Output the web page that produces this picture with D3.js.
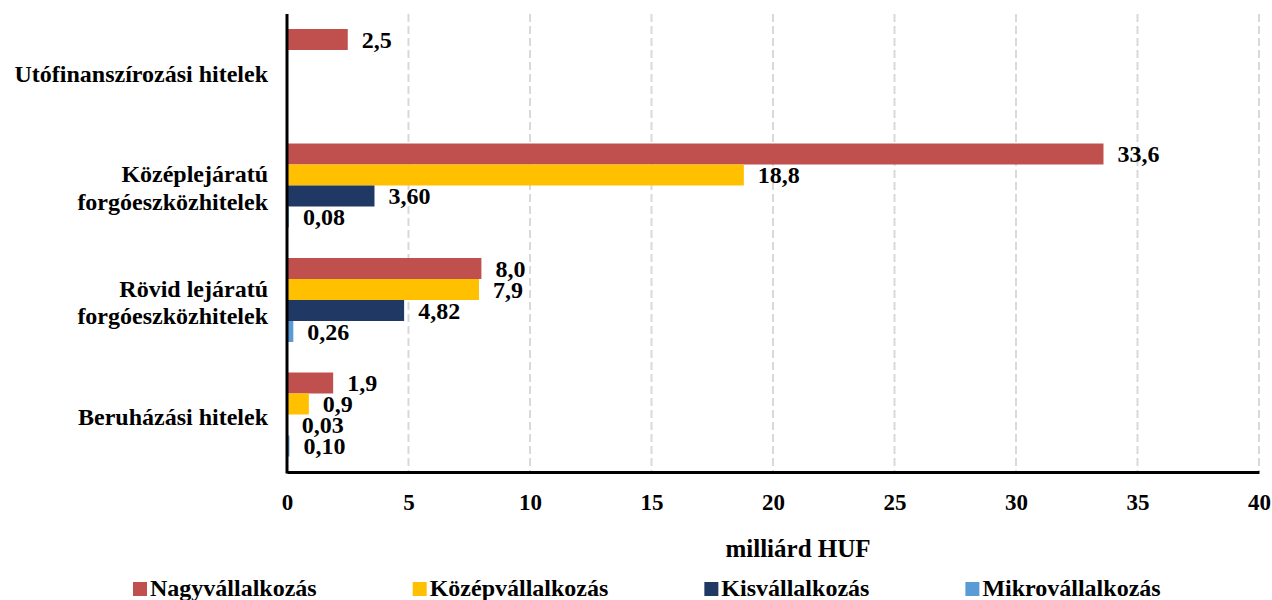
<!DOCTYPE html>
<html>
<head>
<meta charset="utf-8">
<script src="https://cdn.jsdelivr.net/npm/d3@7"></script>
<style>
  body { margin: 0; background: #fff; }
</style>
</head>
<body>
<div class="areaGrafica"></div>
<script>
// adatok
const kategoriak = ['Utófinanszírozási hitelek', 'Középlejáratú forgóeszközhitelek', 'Rövid lejáratú forgóeszközhitelek', 'Beruházási hitelek'];
const kategoriaSorok = [['Utófinanszírozási hitelek'], ['Középlejáratú', 'forgóeszközhitelek'], ['Rövid lejáratú', 'forgóeszközhitelek'], ['Beruházási hitelek']];
const sorozatok = ['Nagyvállalkozás', 'Középvállalkozás', 'Kisvállalkozás', 'Mikrovállalkozás'];
const nagy  = [2.5, 33.6, 8.0, 1.9];
const kozep = [null, 18.8, 7.9, 0.9];
const kis   = [null, 3.60, 4.82, 0.03];
const mikro = [null, 0.08, 0.26, 0.10];
const tizedes = [1, 1, 2, 2];
const xTicks = [0, 5, 10, 15, 20, 25, 30, 35, 40];
const szinek = ['#C0504D', '#FFC000', '#1F3864', '#5B9BD5'];

const ertekek = [nagy, kozep, kis, mikro];

const w = 1272, h = 600;
const balSzel = 287, jobbSzel = 1259, felso = 14, also = 472;
const betu = "'Liberation Serif'";

function betus(sel, meret) {
  return sel.style('font-family', betu)
            .style('font-weight', 'bold')
            .style('font-size', (meret || 23) + 'px')
            .attr('fill', '#000');
}

let svg = d3.select('.areaGrafica').append('svg')
            .attr('width', w)
            .attr('height', h);

let xScale = d3.scaleLinear().domain([0, 40]).range([balSzel, jobbSzel]);
let y0 = d3.scaleBand().domain(kategoriak).range([felso, also]).padding(0);
let y1 = d3.scaleBand().domain(sorozatok).range([15, 99]).padding(0);

// racsvonalak
svg.append('g').selectAll('line')
   .data(xTicks.slice(1))
   .enter().append('line')
   .attr('x1', d => xScale(d)).attr('x2', d => xScale(d))
   .attr('y1', felso).attr('y2', also)
   .attr('stroke', '#D9D9D9')
   .attr('stroke-width', 2)
   .attr('stroke-dasharray', '8,4');

// oszlopok
let adat = [];
kategoriak.forEach((k, i) => {
  sorozatok.forEach((s, j) => {
    const v = ertekek[j][i];
    if (v !== null) adat.push({ k: k, s: s, v: v, j: j });
  });
});

svg.append('g').selectAll('rect')
   .data(adat)
   .enter().append('rect')
   .attr('x', xScale(0))
   .attr('y', d => y0(d.k) + y1(d.s))
   .attr('width', d => Math.max(xScale(d.v) - xScale(0), 0.6))
   .attr('height', y1.bandwidth())
   .attr('fill', d => szinek[d.j]);

svg.append('g').selectAll('text')
   .data(adat)
   .enter().append('text')
   .attr('x', d => xScale(d.v) + 14)
   .attr('y', d => y0(d.k) + y1(d.s) + y1.bandwidth() / 2)
   .attr('dy', '0.35em')
   .call(betus, 24)
   .text(d => d.v.toFixed(tizedes[d.j]).replace('.', ','));

// x tengely
let xAxis = d3.axisBottom(xScale).tickValues(xTicks).tickSize(0).tickPadding(22);
let gx = svg.append('g')
   .attr('transform', 'translate(0,' + also + ')')
   .call(xAxis);
gx.select('.domain').attr('stroke', '#000').attr('stroke-width', 3);
gx.selectAll('text').call(betus);

// y tengely
svg.append('line')
   .attr('x1', balSzel).attr('x2', balSzel)
   .attr('y1', felso).attr('y2', also + 1.5)
   .attr('stroke', '#000').attr('stroke-width', 3);

let cimkek = svg.append('g').selectAll('text')
   .data(kategoriak)
   .enter().append('text')
   .attr('text-anchor', 'end')
   .attr('x', 268)
   .attr('y', d => y0(d) + y0.bandwidth() / 2 + 2)
   .call(betus, 24);

cimkek.each(function(d, i) {
  const sorok = kategoriaSorok[i];
  const n = sorok.length;
  sorok.forEach((s, j) => {
    d3.select(this).append('tspan')
      .attr('x', 268)
      .attr('dy', j === 0 ? ((0.35 - (n - 1) * 0.57) + 'em') : '1.14em')
      .text(s);
  });
});

// tengelycim
svg.append('text')
   .attr('x', 798).attr('y', 548)
   .attr('dy', '0.35em')
   .attr('text-anchor', 'middle')
   .call(betus, 25)
   .text('milliárd HUF');

// jelmagyarazat - egyenlo kozokkel, mint az Excelben
let legenda = svg.append('g');
let lx = 133;
sorozatok.forEach((s, i) => {
  let g = legenda.append('g').attr('transform', 'translate(' + lx + ',0)');
  g.append('rect')
   .attr('x', 0).attr('y', 582)
   .attr('width', 14).attr('height', 14)
   .attr('fill', szinek[i]);
  let t = g.append('text')
   .attr('x', 17).attr('y', 596)
   .call(betus, 24)
   .text(s);
  lx += 17 + t.node().getComputedTextLength() + 96;
});
</script>
</body>
</html>
